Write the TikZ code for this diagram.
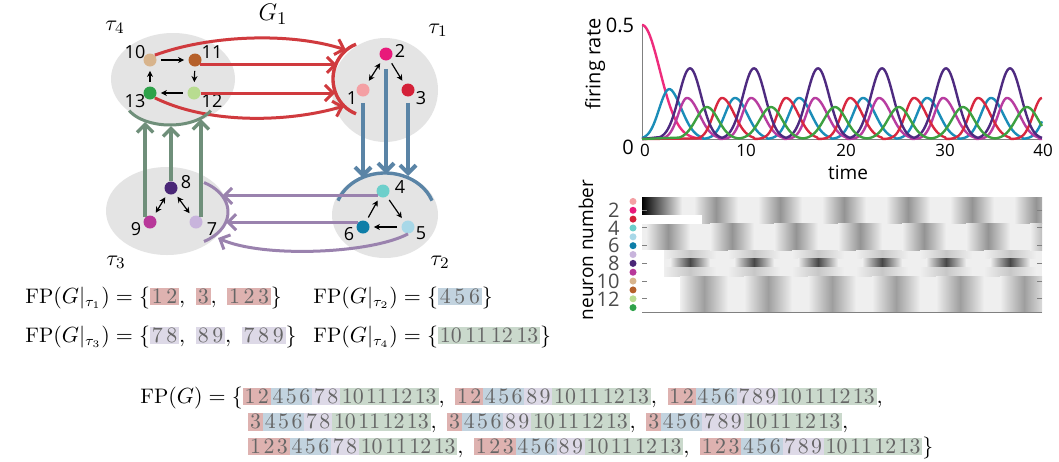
\documentclass[tikz,border=0pt]{standalone}
\usepackage{amsmath}
\usepackage{xcolor}
\usepackage{fontspec}
\usepackage{tikz}
\usetikzlibrary{calc}
\usetikzlibrary{arrows.meta}
\newfontfamily\labfont{Open Sans}

\definecolor{nc1}{HTML}{F4A0A4}
\definecolor{nc2}{HTML}{E8197A}
\definecolor{nc3}{HTML}{D42038}
\definecolor{nc4}{HTML}{6DCFCB}
\definecolor{nc5}{HTML}{A8D8E8}
\definecolor{nc6}{HTML}{0E7EA8}
\definecolor{nc7}{HTML}{C8B4DC}
\definecolor{nc8}{HTML}{4A2777}
\definecolor{nc9}{HTML}{B8389A}
\definecolor{nc10}{HTML}{D8B48C}
\definecolor{nc11}{HTML}{B5602A}
\definecolor{nc12}{HTML}{B8DC90}
\definecolor{nc13}{HTML}{2EA24A}
\definecolor{ellgray}{HTML}{E4E4E4}
\definecolor{redarrc}{HTML}{D03A3E}
\definecolor{bluearrc}{HTML}{5A84A6}
\definecolor{greenarrc}{HTML}{6F8F7A}
\definecolor{purparrc}{HTML}{9A82AE}
\definecolor{boxred}{HTML}{DEB2B0}
\definecolor{boxblue}{HTML}{C2D3DF}
\definecolor{boxpurp}{HTML}{DDD9E7}
\definecolor{boxgreen}{HTML}{CAD9CC}
\definecolor{tr2}{HTML}{EE2C7C}
\definecolor{tr3}{HTML}{D82840}
\definecolor{tr6}{HTML}{1B8DB8}
\definecolor{tr8}{HTML}{4E2A80}
\definecolor{tr9}{HTML}{B83CA0}
\definecolor{tr13}{HTML}{3DA040}
\definecolor{hmbase}{HTML}{EFEFEF}

\tikzstyle{neuron}=[shape=circle, minimum size=6.5pt, inner sep=0pt]
\tikzstyle{nlabel}=[font=\labfont\fontsize{9}{9}\selectfont, inner sep=0pt]
\tikzstyle{ticklab}=[font=\labfont\fontsize{8.5}{8.5}\selectfont, inner sep=0pt]
\tikzstyle{rowlab}=[font=\labfont\fontsize{10}{10}\selectfont, inner sep=0pt, text=black!70]
\tikzstyle{region}=[fill=ellgray, draw=none]
\tikzstyle{inarrow}=[-{Stealth[length=3pt, width=3pt]}, line width=0.6pt, shorten >=2pt, shorten <=2pt]
\tikzstyle{inboth}=[{Stealth[length=3pt, width=3pt]}-{Stealth[length=3pt, width=3pt]}, line width=0.6pt, shorten >=2pt, shorten <=2pt]
\tikzstyle{redarrow}=[-{Straight Barb[length=4pt, width=8pt]}, line width=1.5pt, color=redarrc]
\tikzstyle{bluearrow}=[-{Straight Barb[length=4pt, width=8pt]}, line width=2pt, color=bluearrc]
\tikzstyle{greenarrow}=[-{Straight Barb[length=4pt, width=8pt]}, line width=1.7pt, color=greenarrc]
\tikzstyle{purparrow}=[-{Straight Barb[length=4pt, width=8pt]}, line width=1.5pt, color=purparrc]
\tikzstyle{trace}=[line width=1.2pt, line join=round]
\tikzstyle{axisline}=[line width=0.5pt, color=black!50]

\newcommand{\bxr}[1]{{\setlength{\fboxsep}{0.9pt}\colorbox{boxred}{\color{black!60}$#1$}}}
\newcommand{\bxb}[1]{{\setlength{\fboxsep}{0.9pt}\colorbox{boxblue}{\color{black!60}$#1$}}}
\newcommand{\bxp}[1]{{\setlength{\fboxsep}{0.9pt}\colorbox{boxpurp}{\color{black!60}$#1$}}}
\newcommand{\bxg}[1]{{\setlength{\fboxsep}{0.9pt}\colorbox{boxgreen}{\color{black!60}$#1$}}}
\newcommand{\ttt}{10\,11\,12\,13}
\newcommand{\ts}{\mkern2mu}
\newcommand{\tttb}{10\ts11\ts12\ts13}
% one grey band of the raster: centre, top, bottom, colour, half width
\newcommand{\hmband}[5]{%
  \shade[left color=hmbase, right color=#4] (#1-#5,#2) rectangle (#1,#3);
  \shade[left color=#4, right color=hmbase] (#1,#2) rectangle (#1+#5,#3);}

\begin{document}
\begin{tikzpicture}[x=0.5pt, y=-0.5pt,
  declare function={ph(\t,\c)=mod(\t-\c+67.2,6.4)-3.2;
    bump(\t,\c,\a,\l,\r)=\a*exp(0-ph(\t,\c)*ph(\t,\c)/(\l+(\r-\l)*(ph(\t,\c)>0)));}]
\useasboundingbox (0,0) rectangle (1059,461);
\fill[white] (0,0) rectangle (1059,461);

% regions
\fill[region] (173,79) ellipse [x radius=62, y radius=46];
\fill[region] (385,90) ellipse [x radius=53, y radius=52];
\fill[region] (167,211) ellipse [x radius=61, y radius=44];
\fill[region] (385,215) ellipse [x radius=53, y radius=43];

\node (G1) at (273,14) {\fontsize{12.5}{12.5}\selectfont $G_1$};
\node (tau4) at (115,27) {\fontsize{11}{11}\selectfont $\tau_4$};
\node (tau1) at (438,30) {\fontsize{11}{11}\selectfont $\tau_1$};
\node (tau3) at (116,262) {\fontsize{11}{11}\selectfont $\tau_3$};
\node (tau2) at (440,262) {\fontsize{11}{11}\selectfont $\tau_2$};

% neurons
\node [neuron, fill=nc10] (n10) at (150,60) {};
\node [neuron, fill=nc11] (n11) at (195,60) {};
\node [neuron, fill=nc12] (n12) at (194,93) {};
\node [neuron, fill=nc13] (n13) at (150,93) {};
\node [neuron, fill=nc2] (n2) at (386,54) {};
\node [neuron, fill=nc1] (n1) at (363,90) {};
\node [neuron, fill=nc3] (n3) at (408,90) {};
\node [neuron, fill=nc4] (n4) at (383,191) {};
\node [neuron, fill=nc5] (n5) at (408,227) {};
\node [neuron, fill=nc6] (n6) at (363,227) {};
\node [neuron, fill=nc8] (n8) at (171,188) {};
\node [neuron, fill=nc9] (n9) at (150,222) {};
\node [neuron, fill=nc7] (n7) at (196,222) {};

\node [nlabel] (l10) at (135,52) {10};
\node [nlabel] (l11) at (212,52) {11};
\node [nlabel] (l12) at (212,101) {12};
\node [nlabel] (l13) at (135,101) {13};
\node [nlabel] (l2) at (400,51) {2};
\node [nlabel] (l1) at (352,98) {1};
\node [nlabel] (l3) at (421,98) {3};
\node [nlabel] (l4) at (400,187) {4};
\node [nlabel] (l5) at (421,233) {5};
\node [nlabel] (l6) at (349,234) {6};
\node [nlabel] (l8) at (186,182) {8};
\node [nlabel] (l9) at (136,229) {9};
\node [nlabel] (l7) at (212,229) {7};

\draw[inarrow] (n10) -- (n11);
\draw[inarrow] (n11) -- (n12);
\draw[inarrow] (n12) -- (n13);
\draw[inarrow] (n13) -- (n10);
\draw[inboth] (n2) -- (n1);
\draw[inarrow] (n2) -- (n3);
\draw[inarrow] (n4) -- (n5);
\draw[inarrow] (n5) -- (n6);
\draw[inarrow] (n6) -- (n4);
\draw[inboth] (n8) -- (n9);
\draw[inboth] (n8) -- (n7);

% tau4 -> tau1
\draw[line width=1.7pt, color=redarrc] (368,79) ++(110:35 and 37) arc[start angle=110, end angle=250, x radius=35, y radius=37];
\coordinate (rt1) at (346,50);
\coordinate (rt2) at (337,63);
\coordinate (rt3) at (335,92);
\coordinate (rt4) at (344,106);
\draw[redarrow] (n10.north east) .. controls (210,35) and (290,32) .. (rt1);
\draw[redarrow] (n11.south east) -- (n11.south east -| rt2);
\draw[redarrow] (n12.east) -- (n12.east -| rt3);
\draw[redarrow] (n13.south east) .. controls (210,125) and (290,122) .. (rt4);

% tau1 -> tau2
\draw[line width=1.7pt, color=bluearrc] (385,215) ++(200:50 and 42) arc[start angle=200, end angle=340, x radius=50, y radius=42];
\coordinate (bt1) at (363,178);
\coordinate (bt2) at (386,174);
\coordinate (bt3) at (408,176);
\draw[bluearrow, shorten <=3pt] (n1.south) -- (n1.south |- bt1);
\draw[bluearrow, shorten <=4pt] (n2.south) -- (n2.south |- bt2);
\draw[bluearrow, shorten <=3pt] (n3.south) -- (n3.south |- bt3);

% tau3 -> tau4
\draw[line width=1.5pt, color=greenarrc] (170,100) ++(25:45 and 25) arc[start angle=25, end angle=155, x radius=45, y radius=25];
\coordinate (gt1) at (145,122);
\coordinate (gt2) at (171,126);
\coordinate (gt3) at (201,119);
\draw[greenarrow] (n9.north west) -- (n9.north west |- gt1);
\draw[greenarrow] (n8.north) -- (n8.north |- gt2);
\draw[greenarrow] (n7.north east) -- (n7.north east |- gt3);

% tau2 -> tau3
\draw[line width=1.5pt, color=purparrc] (180,212) ++(-60:48 and 34) arc[start angle=-60, end angle=60, x radius=48, y radius=34];
\coordinate (pt1) at (222,195);
\coordinate (pt2) at (226,222);
\coordinate (pt3) at (218,238);
\draw[purparrow] (n4.south west) -- (n4.south west -| pt1);
\draw[purparrow] (n6.north west) -- (n6.north west -| pt2);
\draw[purparrow] (n5.south) .. controls (370,254) and (262,258) .. (pt3);

% fixed point sets
\node [anchor=west, inner sep=0pt] (fp1) at (25,298) {\fontsize{10.5}{10.5}\selectfont $\mathrm{FP}(G|_{\tau_1}) = \{\bxr{1\,2},\ \bxr{3},\ \bxr{1\,2\,3}\}$};
\node [anchor=west, inner sep=0pt] (fp2) at (313,298) {\fontsize{10.5}{10.5}\selectfont $\mathrm{FP}(G|_{\tau_2}) = \{\bxb{4\,5\,6}\}$};
\node [anchor=west, inner sep=0pt] (fp3) at (25,337) {\fontsize{10.5}{10.5}\selectfont $\mathrm{FP}(G|_{\tau_3}) = \{\bxp{7\,8},\ \bxp{8\,9},\ \bxp{7\,8\,9}\}$};
\node [anchor=west, inner sep=0pt] (fp4) at (313,337) {\fontsize{10.5}{10.5}\selectfont $\mathrm{FP}(G|_{\tau_4}) = \{\bxg{\ttt}\}$};

\node [anchor=west, inner sep=0pt] (fpall1) at (140,398) {\fontsize{10.5}{10.5}\selectfont $\mathrm{FP}(G) = \{\bxr{1\ts2}\bxb{4\ts5\ts6}\bxp{7\ts8}\bxg{\tttb},\ \bxr{1\ts2}\bxb{4\ts5\ts6}\bxp{8\ts9}\bxg{\tttb},\ \bxr{1\ts2}\bxb{4\ts5\ts6}\bxp{7\ts8\ts9}\bxg{\tttb},$};
\node [anchor=west, inner sep=0pt] (fpall2) at (248,423) {\fontsize{10.5}{10.5}\selectfont $\bxr{3}\bxb{4\ts5\ts6}\bxp{7\ts8}\bxg{\tttb},\ \bxr{3}\bxb{4\ts5\ts6}\bxp{8\ts9}\bxg{\tttb},\ \bxr{3}\bxb{4\ts5\ts6}\bxp{7\ts8\ts9}\bxg{\tttb},$};
\node [anchor=west, inner sep=0pt] (fpall3) at (248,448) {\fontsize{10.5}{10.5}\selectfont $\bxr{1\ts2\ts3}\bxb{4\ts5\ts6}\bxp{7\ts8}\bxg{\tttb},\ \bxr{1\ts2\ts3}\bxb{4\ts5\ts6}\bxp{8\ts9}\bxg{\tttb},\ \bxr{1\ts2\ts3}\bxb{4\ts5\ts6}\bxp{7\ts8\ts9}\bxg{\tttb}\}$};

% firing rates
\begin{scope}[shift={(642,139)}, x=5pt, y=114pt]
\draw[axisline] (0,0.5) -- (0,0) -- (40,0);
\draw[trace, tr2] plot[domain=0:6, samples=60, smooth] (\x, {0.5*exp(0-\x*\x/6.3)});
\draw[trace, tr6] plot[domain=0:40, samples=300] (\x, {bump(\x,2.9,0.18,2.0,3.0)+0.05*exp(0-(\x-2.2)*(\x-2.2)/1.5)});
\draw[trace, tr9] (0,0) -- plot[domain=2.2:40, samples=300] (\x, {bump(\x,4.5,0.18,1.5,3.0)});
\draw[trace, tr3] (0,0) -- plot[domain=5.5:40, samples=300] (\x, {bump(\x,8.0,0.18,1.5,3.0)});
\draw[trace, tr8] (0,0) -- plot[domain=1.8:40, samples=300] (\x, {bump(\x,4.8,0.31,2.5,2.5)});
\draw[trace, tr13] (0,0) -- plot[domain=3.7:40, samples=300] (\x, {bump(\x,6.5,0.14,2.5,2.5)});
\end{scope}
\node [ticklab, font=\labfont\fontsize{10}{10}\selectfont] (yhi) at (620,25) {0.5};
\node [ticklab, font=\labfont\fontsize{10}{10}\selectfont] (ylo) at (628,147) {0};
\foreach \v/\xp in {0/645,10/746,20/846,30/945,40/1043}
  \node [ticklab] (xt\v) at (\xp,150) {\v};
\node [ticklab, font=\labfont\fontsize{9.5}{9.5}\selectfont] (timelab) at (848,173) {time};
\node [ticklab, font=\labfont\fontsize{10}{10}\selectfont, rotate=90] (ratelab) at (595,64) {firing rate};

% raster
\begin{scope}[shift={(642,0)}, x=5pt]
\begin{scope}
\clip (0,197) rectangle (40,312);
\fill[hmbase] (0,197) rectangle (40,312);
\foreach \k in {0,...,6} {
  \pgfmathsetmacro{\bca}{7.4+6.4*\k}
  \pgfmathsetmacro{\bcb}{2.6+6.4*\k}
  \pgfmathsetmacro{\bcc}{4.8+6.4*\k}
  \pgfmathsetmacro{\bcd}{6.2+6.4*\k}
  \hmband{\bca}{197}{223.5}{black!42}{2.2}
  \hmband{\bcb}{223.5}{250}{black!42}{2.2}
  \hmband{\bcc}{250}{258.9}{black!22}{2.6}
  \hmband{\bcc}{258.9}{267.7}{black!72}{2.0}
  \hmband{\bcc}{267.7}{276.6}{black!22}{2.6}
  \hmband{\bcd}{276.6}{312}{black!38}{2.4}
}
\shade[left color=black, right color=hmbase] (0,197) rectangle (4,214.7);
\fill[white] (0,214.7) rectangle (6,223.5);
\fill[white] (0,250) rectangle (2.2,276.6);
\fill[white] (0,276.6) rectangle (3.8,312);
\end{scope}
\draw[axisline] (0,312) -- (40,312);
\foreach \r in {2,4,...,12} {
  \draw[axisline] (40,{197+(\r-0.5)*8.85}) -- ++(-0.5,0);
  \draw[axisline] (0,{197+(\r-0.5)*8.85}) -- ++(0.5,0);
}
\end{scope}
\foreach \i in {1,...,13}
  \node [neuron, minimum size=3.5pt, fill=nc\i] (dot\i) at (633,{197+(\i-0.5)*8.85}) {};
\foreach \i in {2,4,...,12}
  \node [rowlab, anchor=east] (row\i) at (620,{197+(\i-0.5)*8.85}) {\i};
\node [ticklab, font=\labfont\fontsize{9.5}{9.5}\selectfont, rotate=90] (neurlab) at (586,250) {neuron number};
\end{tikzpicture}
\end{document}
